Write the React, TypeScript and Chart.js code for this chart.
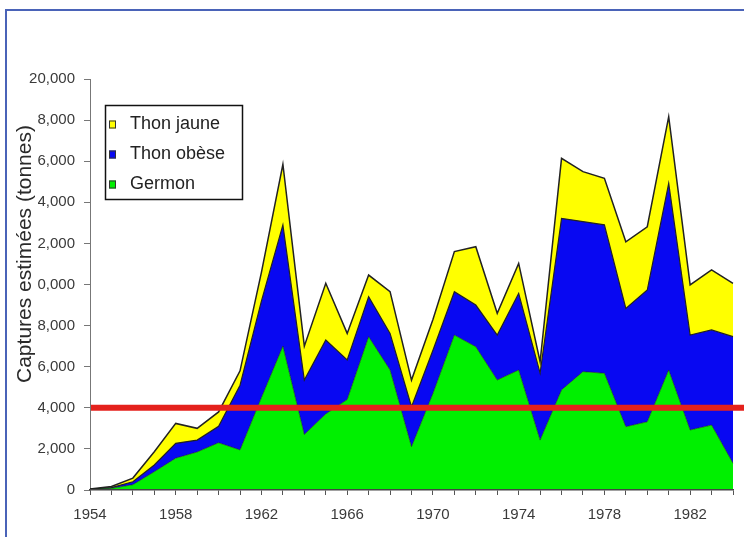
import { useEffect, useRef } from 'react';
import { Chart, registerables } from 'chart.js';

Chart.register(...registerables);

const YEARS = [
  '1954', '1955', '1956', '1957', '1958', '1959', '1960', '1961', '1962', '1963',
  '1964', '1965', '1966', '1967', '1968', '1969', '1970', '1971', '1972', '1973',
  '1974', '1975', '1976', '1977', '1978', '1979', '1980', '1981', '1982', '1983', '1984',
];
const X_LABELED_YEARS = ['1954', '1958', '1962', '1966', '1970', '1974', '1978', '1982'];

const GERMON = [
  30, 80, 260, 890, 1550, 1850, 2300, 1950, 4500, 7000,
  2700, 3700, 4400, 7460, 5840, 2110, 4700, 7540, 6970, 5350,
  5840, 2430, 4870, 5760, 5680, 3080, 3320, 5840, 2920, 3160, 1300,
];
const THON_OBESE = [
  10, 40, 140, 330, 720, 580, 800, 3150, 4700, 5900,
  2650, 3600, 1930, 1950, 1780, 1940, 2100, 2110, 2030, 2190,
  3730, 3260, 8350, 7300, 7220, 5760, 6410, 9080, 4620, 4630, 6160,
];
const THON_JAUNE = [
  10, 50, 180, 640, 970, 570, 700, 700, 1400, 2950,
  1650, 2760, 1290, 1050, 2030, 1300, 1500, 1950, 2840, 1060,
  1460, 550, 2920, 2430, 2270, 3240, 3080, 3250, 2440, 2920, 2600,
];

const SERIES_LABELS = ['Germon', 'Thon obèse', 'Thon jaune'];
const Y_TITLE = 'Captures estimées (tonnes)';
const Y_MAX = 20000;
const Y_STEP = 2000;
const THRESHOLD = 4000;

const FONT = "'Liberation Sans', Arial, sans-serif";

const thresholdPlugin = {
  id: 'thresholdLine',
  afterDatasetsDraw(chart: any) {
    const { ctx, chartArea } = chart;
    const y = chart.scales.y.getPixelForValue(THRESHOLD);
    ctx.save();
    ctx.strokeStyle = '#e4211c';
    ctx.lineWidth = 6;
    ctx.beginPath();
    ctx.moveTo(chartArea.left + 1, y);
    ctx.lineTo(chart.width, y);
    ctx.stroke();
    ctx.restore();
  },
};

const yTitlePlugin = {
  id: 'yTitleBox',
  afterDraw(chart: any) {
    const { ctx } = chart;
    ctx.save();
    ctx.fillStyle = '#ffffff';
    ctx.fillRect(11, 108, 27, 286);
    ctx.translate(25, 254);
    ctx.rotate(-Math.PI / 2);
    ctx.font = `21px ${FONT}`;
    ctx.fillStyle = '#2a2a2a';
    ctx.textAlign = 'center';
    ctx.textBaseline = 'middle';
    ctx.fillText(Y_TITLE, 0, 0);
    ctx.restore();
  },
};

const boxLegendPlugin = {
  id: 'boxLegend',
  afterDraw(chart: any) {
    const { ctx } = chart;
    const left = 105.5;
    const top = 105.5;
    const w = 137;
    const h = 94;
    ctx.save();
    ctx.fillStyle = '#ffffff';
    ctx.fillRect(left, top, w, h);
    ctx.strokeStyle = '#111111';
    ctx.lineWidth = 1.5;
    ctx.strokeRect(left, top, w, h);
    const ds = chart.data.datasets.slice().reverse();
    ctx.font = `18px ${FONT}`;
    ctx.textBaseline = 'middle';
    ctx.textAlign = 'left';
    ds.forEach((d: any, i: number) => {
      const cy = top + 19 + i * 30;
      ctx.fillStyle = d.backgroundColor;
      ctx.fillRect(109, cy - 4, 7, 8);
      ctx.strokeStyle = '#333333';
      ctx.lineWidth = 1;
      ctx.strokeRect(109.5, cy - 3.5, 6, 7);
      ctx.fillStyle = '#222222';
      ctx.fillText(d.label, 130, cy);
    });
    ctx.restore();
  },
};

export default function App() {
  const canvasRef = useRef<HTMLCanvasElement | null>(null);

  useEffect(() => {
    const canvas = canvasRef.current;
    if (!canvas) return;
    const chart = new Chart(canvas, {
      type: 'line',
      data: {
        labels: YEARS,
        datasets: [
          {
            label: SERIES_LABELS[0],
            data: GERMON,
            backgroundColor: '#00f000',
            borderColor: 'rgba(20,40,20,0.6)',
            borderWidth: 1,
            fill: 'origin',
            pointRadius: 0,
            tension: 0,
          },
          {
            label: SERIES_LABELS[1],
            data: THON_OBESE,
            backgroundColor: '#0808f2',
            borderColor: '#222222',
            borderWidth: 1.2,
            fill: '-1',
            pointRadius: 0,
            tension: 0,
          },
          {
            label: SERIES_LABELS[2],
            data: THON_JAUNE,
            backgroundColor: '#ffff00',
            borderColor: '#222222',
            borderWidth: 1.5,
            fill: '-1',
            pointRadius: 0,
            tension: 0,
          },
        ],
      },
      options: {
        responsive: false,
        animation: false,
        devicePixelRatio: 1,
        layout: { padding: { top: 79, right: 9, left: 0, bottom: 0 } },
        plugins: {
          legend: { display: false },
          tooltip: { enabled: false },
        },
        scales: {
          x: {
            type: 'category',
            offset: false,
            afterFit: (s: any) => {
              s.height = 47;
            },
            grid: {
              display: true,
              drawOnChartArea: false,
              drawTicks: true,
              tickLength: 5,
              color: '#555555',
            },
            border: { display: true, color: '#444444', width: 1.5, z: 2 },
            ticks: {
              autoSkip: false,
              maxRotation: 0,
              minRotation: 0,
              padding: 11,
              color: '#3a3a3a',
              font: { family: FONT, size: 15 },
              callback: function (this: any, value: any) {
                const lab = this.getLabelForValue(value);
                return X_LABELED_YEARS.includes(lab) ? lab : '';
              },
            },
          },
          y: {
            stacked: true,
            min: 0,
            max: Y_MAX,
            afterFit: (s: any) => {
              s.width = 90;
            },
            grid: {
              display: true,
              drawOnChartArea: false,
              drawTicks: true,
              tickLength: 6,
              color: '#777777',
            },
            border: { display: true, color: '#777777', width: 1 },
            ticks: {
              stepSize: Y_STEP,
              padding: 9,
              color: '#3a3a3a',
              font: { family: FONT, size: 15 },
              callback: (v: any) => Number(v).toLocaleString('en-US'),
            },
          },
        },
      },
      plugins: [thresholdPlugin, yTitlePlugin, boxLegendPlugin],
    });
    return () => chart.destroy();
  }, []);

  return (
    <div
      style={{
        position: 'fixed',
        left: 0,
        top: 0,
        width: 744,
        height: 537,
        overflow: 'hidden',
        background: '#ffffff',
      }}
    >
      <canvas
        ref={canvasRef}
        width={744}
        height={537}
        style={{ position: 'absolute', left: 0, top: 0, width: 744, height: 537 }}
      />
      <div
        style={{
          position: 'absolute',
          left: 5,
          top: 9,
          width: 800,
          height: 600,
          borderLeft: '2px solid #4a63b8',
          borderTop: '2px solid #4a63b8',
          pointerEvents: 'none',
        }}
      />
    </div>
  );
}
